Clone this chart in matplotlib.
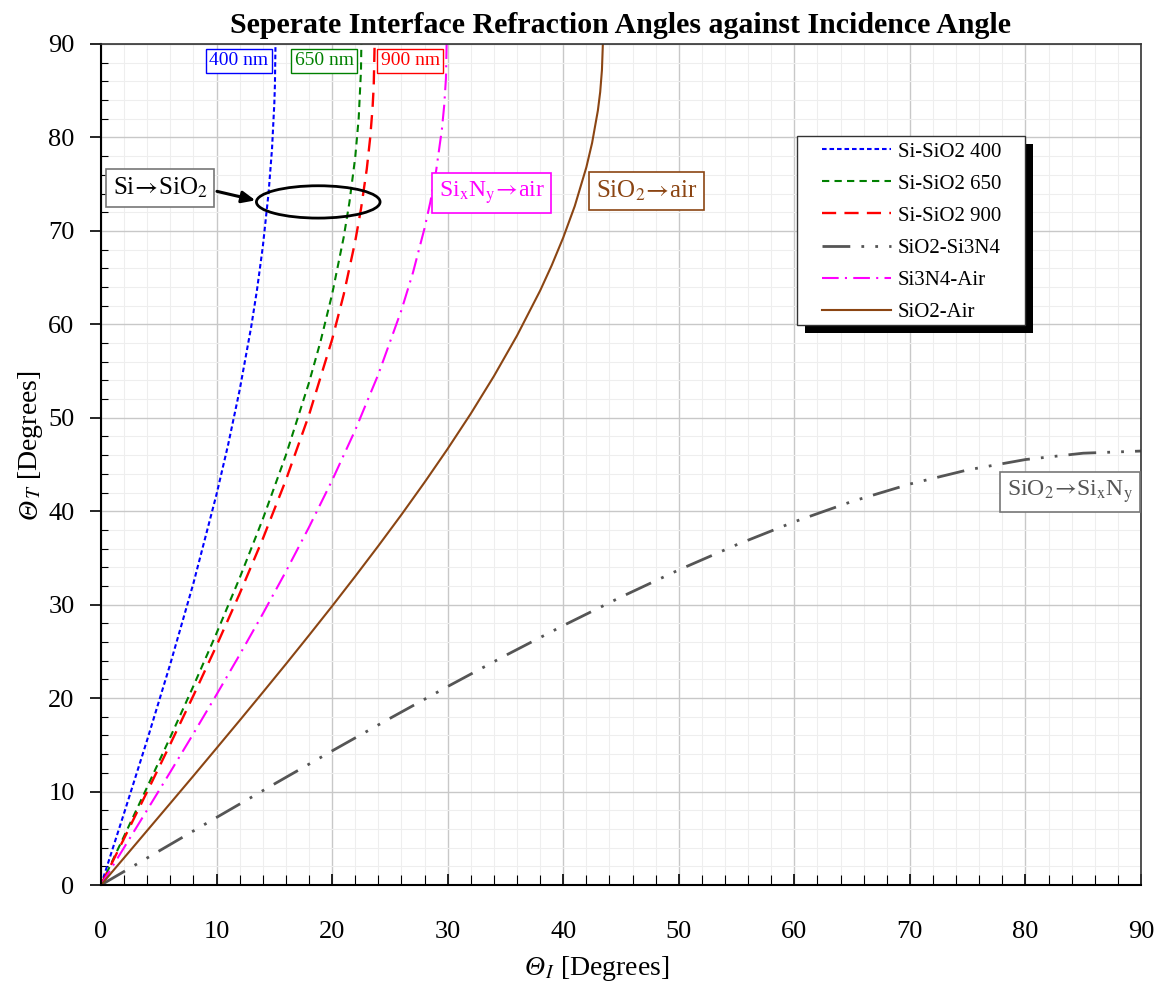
import matplotlib
matplotlib.use("Agg")
import matplotlib.pyplot as plt
from matplotlib.patches import Ellipse, Rectangle
from matplotlib.ticker import MultipleLocator

plt.rcParams['font.family'] = ['Liberation Serif', 'DejaVu Serif']
plt.rcParams['mathtext.fontset'] = 'stix'

# ---- data ----
si_sio2_400_x = [0, 2, 4, 6, 8, 10, 11, 12, 13, 13.5, 14, 14.5, 14.8, 15.0, 15.05, 15.1]
si_sio2_400_y = [0, 7.70, 15.54, 23.67, 32.30, 41.82, 47.11, 52.98, 59.75, 63.69, 68.27, 74.05, 78.79, 83.67, 85.6, 90]

si_sio2_650_x = [0, 2, 4, 6, 8, 10, 12, 14, 16, 18, 19, 20, 21, 21.5, 22, 22.3, 22.5, 22.53]
si_sio2_650_y = [0, 5.23, 10.49, 15.83, 21.30, 26.95, 32.86, 39.15, 46.00, 53.76, 58.18, 63.22, 69.30, 73.07, 77.87, 82.05, 87.2, 90]

si_sio2_900_x = [0, 2, 4, 6, 8, 10, 12, 14, 16, 18, 20, 21, 22, 22.5, 23, 23.3, 23.5, 23.6, 23.68]
si_sio2_900_y = [0, 4.99, 10.00, 15.09, 20.28, 25.62, 31.18, 37.04, 43.34, 50.30, 58.38, 63.17, 68.89, 72.36, 76.62, 80.03, 83.17, 85.47, 90]

sio2_si3n4_x = [0, 5, 10, 15, 20, 25, 30, 35, 40, 45, 50, 55, 60, 65, 70, 75, 80, 85, 90]
sio2_si3n4_y = [0, 3.62, 7.23, 10.81, 14.35, 17.83, 21.24, 24.56, 27.76, 30.82, 33.72, 36.41, 38.87, 41.05, 42.91, 44.42, 45.53, 46.21, 46.44]

si3n4_air_x = [0, 2, 4, 6, 8, 10, 12, 14, 16, 18, 20, 22, 24, 26, 27, 28, 28.5, 29, 29.5, 29.7, 29.85, 29.91]
si3n4_air_y = [0, 4.01, 8.04, 12.10, 16.20, 20.38, 24.64, 29.02, 33.55, 38.29, 43.30, 48.68, 54.65, 61.52, 65.55, 70.29, 73.09, 76.42, 80.86, 83.42, 86.3, 90]

sio2_air_x = [0, 2, 4, 6, 8, 10, 12, 14, 16, 18, 20, 22, 24, 26, 28, 30, 32, 34, 36, 38, 39, 40, 41, 42, 42.5, 43, 43.2, 43.35, 43.43]
sio2_air_y = [0, 2.91, 5.83, 8.75, 11.68, 14.64, 17.61, 20.61, 23.64, 26.72, 29.84, 33.03, 36.29, 39.63, 43.09, 46.68, 50.44, 54.45, 58.79, 63.60, 66.30, 69.28, 72.66, 76.80, 79.42, 82.89, 84.87, 87.2, 90]

series_labels = ['Si-SiO2 400', 'Si-SiO2 650', 'Si-SiO2 900', 'SiO2-Si3N4', 'Si3N4-Air', 'SiO2-Air']
x_ticks = [0, 10, 20, 30, 40, 50, 60, 70, 80, 90]
y_ticks = [0, 10, 20, 30, 40, 50, 60, 70, 80, 90]

title = 'Seperate Interface Refraction Angles against Incidence Angle'

W, H = 1164, 983
fig = plt.figure(figsize=(W / 100, H / 100), dpi=100)
AX_L, AX_R, AX_T, AX_B = 101, 1141, 44, 885
ax = fig.add_axes([AX_L / W, (H - AX_B) / H, (AX_R - AX_L) / W, (AX_B - AX_T) / H])


def px2ax(px, py):
    return ((px - AX_L) / (AX_R - AX_L), (AX_B - py) / (AX_B - AX_T))


def px2fig(px, py):
    return (px / W, (H - py) / H)


BROWN = '#8B4513'
GRAY = '#555555'

ax.plot(si_sio2_400_x, si_sio2_400_y, color='blue', lw=1.5, dashes=(2.2, 1.4), label=series_labels[0])
ax.plot(si_sio2_650_x, si_sio2_650_y, color='green', lw=1.5, dashes=(3.5, 2.5), label=series_labels[1])
ax.plot(si_sio2_900_x, si_sio2_900_y, color='red', lw=1.7, dashes=(6, 3.5), label=series_labels[2])
ax.plot(sio2_si3n4_x, sio2_si3n4_y, color=GRAY, lw=2.0, dashes=(10, 4, 1, 4, 1, 4), label=series_labels[3])
ax.plot(si3n4_air_x, si3n4_air_y, color='magenta', lw=1.5, dashes=(8, 3, 1, 3), label=series_labels[4])
ax.plot(sio2_air_x, sio2_air_y, color=BROWN, lw=1.5, label=series_labels[5])

ax.set_xlim(0, 90)
ax.set_ylim(0, 90)
ax.set_xticks(x_ticks)
ax.set_yticks(y_ticks)
ax.xaxis.set_minor_locator(MultipleLocator(2))
ax.yaxis.set_minor_locator(MultipleLocator(2))
ax.tick_params(axis='x', which='major', direction='in', length=8, width=1.2, labelsize=19, pad=26)
ax.tick_params(axis='x', which='minor', direction='in', length=7, width=0.8)
ax.tick_params(axis='y', which='major', direction='out', length=8, width=1.2, labelsize=19, pad=11)
ax.tick_params(axis='y', which='minor', direction='in', length=5, width=0.8)

ax.grid(which='major', color='#c8c8c8', lw=1.0)
ax.grid(which='minor', color='#eeeeee', lw=0.8)
ax.set_axisbelow(True)

for s in ['left', 'bottom']:
    ax.spines[s].set_linewidth(1.5)
    ax.spines[s].set_color('black')
for s in ['top', 'right']:
    ax.spines[s].set_linewidth(1.2)
    ax.spines[s].set_color('#333333')

# Axis labels: italic Theta + subscript + text (built from pieces)
LBL = 20
fx, fy = px2fig(545, 975)
fig.text(fx, fy, 'Θ', fontsize=LBL, style='italic', ha='right', va='baseline')
fig.text(fx, fy, r'$_{I}$ [Degrees]', fontsize=LBL, ha='left', va='baseline')
fx, fy = px2fig(37, 499)
fig.text(fx, fy, 'Θ', fontsize=LBL, style='italic', ha='right', va='baseline',
         rotation=90, rotation_mode='anchor')
fig.text(fx, fy, r'$_{T}$ [Degrees]', fontsize=LBL, ha='left', va='baseline',
         rotation=90, rotation_mode='anchor')

ax.set_title(title, fontsize=21.5, fontweight='bold', pad=8)

# Wavelength labels
for txt, xx, col in [('400 nm', 11.94, 'blue'), ('650 nm', 19.3, 'green'), ('900 nm', 26.75, 'red')]:
    ax.text(xx, 88.2, txt, color=col, fontsize=14, ha='center', va='center',
            bbox=dict(boxstyle='square,pad=0.17', fc='white', ec=col, lw=1), zorder=6)

# Interface labels
ARR = r'$\!\rightarrow\!$'
box_kw = dict(boxstyle='square,pad=0.28', fc='white', lw=1.2)
ax.text(5.1, 74.6, 'Si' + ARR + r'SiO$_2$', fontsize=18, ha='center', va='center', color='black',
        bbox=dict(ec='#777777', **box_kw), zorder=6)
ax.text(33.8, 74.1, r'Si$_\mathrm{x}$N$_\mathrm{y}$' + ARR + 'air', fontsize=17, ha='center', va='center',
        color='magenta', bbox=dict(ec='magenta', **box_kw), zorder=6)
ax.text(47.2, 74.3, r'SiO$_2$' + ARR + 'air', fontsize=18, ha='center', va='center', color=BROWN,
        bbox=dict(ec=BROWN, **box_kw), zorder=6)
ax.text(83.85, 42.1, r'SiO$_2$' + ARR + r'Si$_\mathrm{x}$N$_\mathrm{y}$', fontsize=17, ha='center',
        va='center', color=GRAY, bbox=dict(ec='#777777', **box_kw), zorder=6)

ax.add_patch(Ellipse((18.8, 73.1), 10.7, 3.46, fill=False, ec='black', lw=2, zorder=6))
ax.annotate('', xy=(13.6, 73.2), xytext=(9.8, 74.3),
            arrowprops=dict(arrowstyle='-|>,head_length=0.8,head_width=0.35', color='black', lw=2.2),
            zorder=6)

# Legend frame with hard shadow
fx0, fy1 = px2ax(797, 136)
fx1, fy0 = px2ax(1025, 325)
sx0, sy1 = px2ax(805, 144)
sx1, sy0 = px2ax(1033, 333)
ax.add_patch(Rectangle((sx0, sy0), sx1 - sx0, sy1 - sy0, transform=ax.transAxes,
                       fc='black', ec='none', zorder=7, clip_on=False))
ax.add_patch(Rectangle((fx0, fy0), fx1 - fx0, fy1 - fy0, transform=ax.transAxes,
                       fc='white', ec='#333333', lw=1.0, zorder=7.5, clip_on=False))

lx, ly = px2ax(822, 142)
leg = ax.legend(loc='upper left', bbox_to_anchor=(lx, ly), fontsize=15, frameon=False,
                handlelength=3.3, labelspacing=0.6, borderpad=0, handletextpad=0.35,
                borderaxespad=0)
leg.set_zorder(8)

fig.savefig('out.png', dpi=100)
